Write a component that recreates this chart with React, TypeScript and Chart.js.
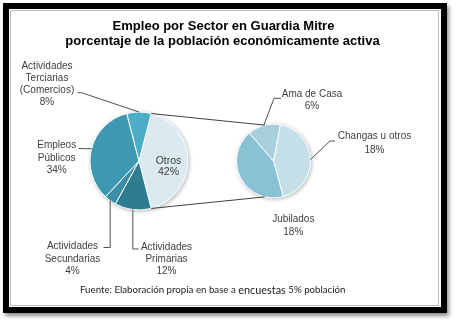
import { useEffect, useRef } from 'react';
import { Chart, registerables } from 'chart.js';

Chart.register(...registerables);

// ---- data ----
const titleLines = ['Empleo por Sector en Guardia Mitre', 'porcentaje de la población económicamente activa'];
const footerParts = ['Fuente: Elaboración propia en base a ', 'encuestas', ' 5% población'];

const mainCategories = [
  ['Otros'],
  ['Actividades', 'Primarias'],
  ['Actividades', 'Secundarias'],
  ['Empleos', 'Públicos'],
  ['Actividades', 'Terciarias', '(Comercios)'],
];
const mainValues = [42, 12, 4, 34, 8];

const subCategories = [['Changas u otros'], ['Jubilados'], ['Ama de Casa']];
const subValues = [18, 18, 6];

// ---- styles ----
const mainColors = ['#dbe9f0', '#2f7c90', '#3a8fa7', '#3e98b1', '#4cadc6'];
const subColors = ['#c5dfe8', '#89c2d3', '#a8cfdb'];
const LABEL_FONT = '10px "Liberation Sans", Arial, sans-serif';
const LABEL_COLOR = '#404040';
const LEADER_COLOR = '#505050';

type P = [number, number];
type LabelStyle = { x: number; y: number; lh: number; font?: string; leader?: P[]; vertical?: number };

// label placement (layout) for each slice of the main pie
const mainLabelStyle: LabelStyle[] = [
  { x: 168.5, y: 160.7, lh: 11.5, font: '10.5px "Liberation Sans", Arial, sans-serif' },
  { x: 166.5, y: 247.3, lh: 12.2, vertical: 249, leader: [[138.5, 249]] },
  { x: 72.5, y: 246.7, lh: 12.2, vertical: 247.5, leader: [[103.5, 247.5]] },
  { x: 56.7, y: 145.7, lh: 12.2, leader: [[78.5, 148.5]] },
  { x: 47, y: 65.8, lh: 12.3, leader: [[81.5, 92.7], [77.5, 92.7]] },
];
const subLabelStyle: LabelStyle[] = [
  { x: 374.5, y: 136.7, lh: 13.2, leader: [[330, 141], [335, 141]] },
  { x: 293.3, y: 219.3, lh: 12.7 },
  { x: 312, y: 94, lh: 12.7, leader: [[274, 98.3], [281, 98.3]] },
];

function midPoint(el: any): P {
  const a = (el.startAngle + el.endAngle) / 2;
  return [el.x + Math.cos(a) * el.outerRadius, el.y + Math.sin(a) * el.outerRadius];
}

function drawLabels(chart: any, cats: string[][], vals: number[], styles: LabelStyle[]) {
  const ctx = chart.ctx as CanvasRenderingContext2D;
  const meta = chart.getDatasetMeta(0);
  ctx.save();
  meta.data.forEach((el: any, i: number) => {
    const st = styles[i];
    if (st.leader) {
      const m = midPoint(el);
      ctx.beginPath();
      ctx.strokeStyle = LEADER_COLOR;
      ctx.lineWidth = 1;
      ctx.moveTo(m[0], m[1]);
      if (st.vertical !== undefined) ctx.lineTo(m[0], st.vertical);
      st.leader.forEach((p) => ctx.lineTo(p[0], p[1]));
      ctx.stroke();
    }
    const lines = [...cats[i], vals[i] + '%'];
    ctx.font = st.font || LABEL_FONT;
    ctx.fillStyle = LABEL_COLOR;
    ctx.textAlign = 'center';
    ctx.textBaseline = 'middle';
    lines.forEach((t, k) => ctx.fillText(t, st.x, st.y + k * st.lh));
  });
  ctx.restore();
}

const shadowPlugin = {
  id: 'pieShadow',
  beforeDatasetsDraw(chart: any) {
    const el = chart.getDatasetMeta(0).data[0];
    if (!el) return;
    const ctx = chart.ctx as CanvasRenderingContext2D;
    ctx.save();
    ctx.beginPath();
    ctx.arc(el.x, el.y, el.outerRadius, 0, Math.PI * 2);
    ctx.fillStyle = '#ffffff';
    ctx.shadowColor = 'rgba(0,0,0,0.35)';
    ctx.shadowBlur = 4;
    ctx.shadowOffsetX = 1;
    ctx.shadowOffsetY = 1;
    ctx.fill();
    ctx.restore();
  },
};

export default function App() {
  const c1 = useRef<HTMLCanvasElement>(null);
  const c2 = useRef<HTMLCanvasElement>(null);

  useEffect(() => {
    document.body.style.margin = '0';
    const total = mainValues.reduce((a, b) => a + b, 0);
    const ch1 = new Chart(c1.current!, {
      type: 'pie',
      data: {
        labels: mainCategories.map((l) => l.join(' ')),
        datasets: [{ data: mainValues, backgroundColor: mainColors, borderColor: '#ffffff', borderWidth: 1 }],
      },
      options: {
        responsive: false,
        animation: false,
        radius: 49,
        rotation: 90 - (mainValues[0] / total) * 180,
        layout: { padding: { left: 89, right: 267, top: 111, bottom: 111 } },
        plugins: { legend: { display: false }, tooltip: { enabled: false } },
      } as any,
      plugins: [
        shadowPlugin,
        {
          id: 'mainLabels',
          afterDatasetsDraw(chart: any) {
            drawLabels(chart, mainCategories, mainValues, mainLabelStyle);
          },
        },
      ],
    });

    const ch2 = new Chart(c2.current!, {
      type: 'pie',
      data: {
        labels: subCategories.map((l) => l.join(' ')),
        datasets: [{ data: subValues, backgroundColor: subColors, borderColor: '#ffffff', borderWidth: 1 }],
      },
      options: {
        responsive: false,
        animation: false,
        radius: 37,
        rotation: 10.5,
        layout: { padding: { left: 236, right: 145, top: 124, bottom: 124 } },
        plugins: { legend: { display: false }, tooltip: { enabled: false } },
      } as any,
      plugins: [
        shadowPlugin,
        {
          id: 'subLabels',
          afterDatasetsDraw(chart: any) {
            const ctx = chart.ctx as CanvasRenderingContext2D;
            // connector lines between the "Otros" slice and the second pie
            const o = ch1.getDatasetMeta(0).data[0] as any;
            const s = chart.getDatasetMeta(0).data[0] as any;
            if (o && s) {
              const a = (104 * Math.PI) / 180;
              ctx.save();
              ctx.strokeStyle = '#404040';
              ctx.lineWidth = 1;
              ctx.beginPath();
              ctx.moveTo(o.x + Math.cos(o.startAngle) * o.outerRadius, o.y + Math.sin(o.startAngle) * o.outerRadius);
              ctx.lineTo(s.x + Math.cos(-a) * s.outerRadius, s.y + Math.sin(-a) * s.outerRadius);
              ctx.moveTo(o.x + Math.cos(o.endAngle) * o.outerRadius, o.y + Math.sin(o.endAngle) * o.outerRadius);
              ctx.lineTo(s.x + Math.cos(a) * s.outerRadius, s.y + Math.sin(a) * s.outerRadius);
              ctx.stroke();
              ctx.restore();
            }
            drawLabels(chart, subCategories, subValues, subLabelStyle);

            // title
            ctx.save();
            ctx.fillStyle = '#000000';
            ctx.textAlign = 'center';
            ctx.textBaseline = 'alphabetic';
            ctx.font = 'bold 13px "Liberation Sans", Arial, sans-serif';
            ctx.fillText(titleLines[0], 223.5, 30);
            ctx.fillText(titleLines[1], 222.5, 45);
            // footer
            ctx.textAlign = 'left';
            ctx.textBaseline = 'middle';
            ctx.fillStyle = '#202020';
            let x = 80;
            footerParts.forEach((t, i) => {
              ctx.font = i === 1 ? '10.9px Lato, sans-serif' : '9.7px Lato, sans-serif';
              ctx.fillText(t, x, 290);
              x += ctx.measureText(t).width;
            });
            ctx.restore();
          },
        },
      ],
    });

    return () => {
      ch2.destroy();
      ch1.destroy();
    };
  }, []);

  return (
    <div style={{ position: 'absolute', left: 0, top: 0, width: 456, height: 322, background: '#ffffff' }}>
      <div
        style={{
          position: 'absolute',
          left: 3,
          top: 3,
          width: 444,
          height: 310,
          boxSizing: 'border-box',
          border: '6px solid #000000',
          boxShadow: '2px 3px 4px rgba(0,0,0,0.45)',
          background: '#ffffff',
        }}
      />
      <div
        style={{
          position: 'absolute',
          left: 10,
          top: 10,
          width: 429,
          height: 296,
          boxSizing: 'border-box',
          border: '1px solid #bdbdbd',
        }}
      />
      <canvas ref={c1} width={456} height={322} style={{ position: 'absolute', left: 0, top: 0 }} />
      <canvas ref={c2} width={456} height={322} style={{ position: 'absolute', left: 0, top: 0 }} />
    </div>
  );
}
